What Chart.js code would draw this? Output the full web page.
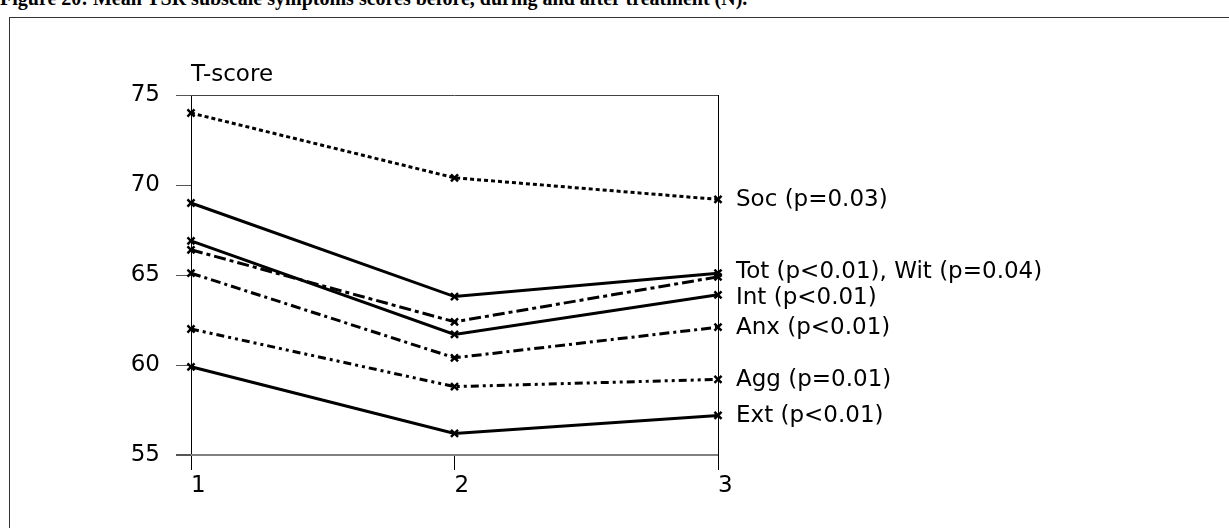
<!DOCTYPE html>
<html>
<head>
<meta charset="utf-8">
<script src="https://cdn.jsdelivr.net/npm/chart.js@4.4.1/dist/chart.umd.min.js"></script>
<style>
html, body { margin: 0; padding: 0; background: #fff; width: 1229px; height: 528px; overflow: hidden; }
#caption { position: absolute; left: 0; top: -13px; font: bold 20px "Liberation Serif", serif; white-space: nowrap; color: #000; }
#frame { position: absolute; left: 9px; top: 17px; width: 1260px; height: 560px; border: 1px solid #333; }
#wrap { position: absolute; left: 0; top: 0; width: 1229px; height: 528px; }
</style>
</head>
<body>
<div id="caption">Figure 20: Mean YSR subscale symptoms scores before, during and after treatment (N).</div>
<div id="frame"></div>
<div id="wrap"><canvas id="myChart"></canvas></div>
<script>
// 측정 시점
const timepoints = ['1', '2', '3'];

// 하위척도별 평균 T-score
const soc = [74.0, 70.4, 69.2];
const tot = [69.0, 63.8, 65.1];
const wit = [66.4, 62.4, 64.9];
const int = [66.9, 61.7, 63.9];
const anx = [65.1, 60.4, 62.1];
const agg = [62.0, 58.8, 59.2];
const ext = [59.9, 56.2, 57.2];

// 오른쪽 끝 라벨과 그 위치 값
const endLabels = ['Soc (p=0.03)', 'Tot (p<0.01), Wit (p=0.04)', 'Int (p<0.01)', 'Anx (p<0.01)', 'Agg (p=0.01)', 'Ext (p<0.01)'];
const endLabelValues = [69.2, 65.2, 63.8, 62.1, 59.2, 57.2];

const yTitle = 'T-score';
const FONT = '"DejaVu Sans", sans-serif';

function line(label, data, dash) {
	return {
		label: label,
		data: data,
		borderColor: '#000',
		backgroundColor: '#000',
		borderWidth: 3,
		borderDash: dash,
		pointStyle: 'crossRot',
		pointRadius: 5,
		pointBorderWidth: 2.5,
		pointBorderColor: '#000',
		tension: 0,
		clip: false
	};
}

// 라벨 그리기 플러그인
const labelPlugin = {
	id: 'endLabels',
	afterDraw: function(chart) {
		const c = chart.ctx;
		const y = chart.scales.y;
		const area = chart.chartArea;
		c.save();
		c.fillStyle = '#000';
		c.font = '23px ' + FONT;
		c.textAlign = 'left';
		c.textBaseline = 'middle';
		endLabels.forEach(function(t, i) {
			c.fillText(t, area.right + 18, y.getPixelForValue(endLabelValues[i]) + 1);
		});
		c.textBaseline = 'alphabetic';
		c.fillText(yTitle, area.left, area.top - 14);
		c.restore();
	}
};

const ctx = document.getElementById('myChart');
window.myChart = new Chart(ctx, {
	type: 'line',
	data: {
		labels: timepoints,
		datasets: [
			line('Soc', soc, [4, 3]),
			line('Tot', tot, []),
			line('Wit', wit, [12, 4, 4, 4]),
			line('Int', int, []),
			line('Anx', anx, [10, 4, 3, 4]),
			line('Agg', agg, [8, 4, 3, 4, 3, 4]),
			line('Ext', ext, [])
		]
	},
	options: {
		responsive: true,
		maintainAspectRatio: false,
		animation: false,
		layout: { padding: { top: 95, right: 511, bottom: 0, left: 0 } },
		plugins: {
			legend: { display: false },
			tooltip: { enabled: false }
		},
		scales: {
			x: {
				offset: false,
				afterFit: function(s) { s.height = 73; },
				border: { display: false },
				grid: {
					offset: false,
					color: function(c) { return c.index === 1 ? 'rgba(0,0,0,0)' : '#000'; },
					tickColor: '#000',
					tickLength: 15,
					lineWidth: 1
				},
				ticks: {
					color: '#000',
					align: 'start',
					padding: 2,
					maxRotation: 0,
					font: { family: FONT, size: 23 }
				}
			},
			y: {
				min: 55,
				max: 75,
				afterFit: function(s) { s.width = 191; },
				border: { display: false },
				grid: {
					color: function(c) {
						if (c.tick.value === 55) return '#808080';
						if (c.tick.value === 75) return '#444';
						return 'rgba(0,0,0,0)';
					},
					lineWidth: function(c) { return c.tick.value === 55 ? 2 : 1; },
					tickColor: '#555',
					tickLength: 15
				},
				ticks: {
					stepSize: 5,
					color: '#000',
					padding: 16,
					font: { family: FONT, size: 23 }
				}
			}
		}
	},
	plugins: [labelPlugin]
});
</script>
</body>
</html>
